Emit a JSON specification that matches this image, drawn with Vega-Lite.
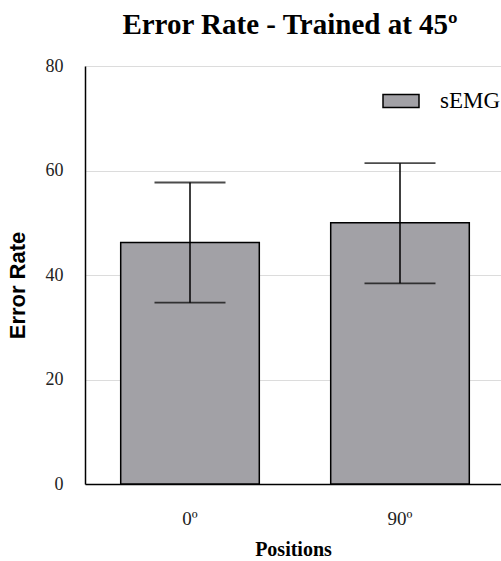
{
  "$schema": "https://vega.github.io/schema/vega-lite/v6.json",
  "autosize": "none",
  "width": 420,
  "height": 418,
  "padding": {"left": 85, "top": 66, "right": 0, "bottom": 77},
  "background": "white",
  "title": {
    "text": "Error Rate - Trained at 45º",
    "font": "Liberation Serif",
    "fontSize": 29,
    "fontWeight": "bold",
    "color": "black",
    "anchor": "middle",
    "dx": -5,
    "offset": 17
  },
  "data": {
    "values": [
      {"position": "0º", "series": "sEMG", "rate": 46.2, "lo": 34.7, "hi": 57.7},
      {"position": "90º", "series": "sEMG", "rate": 50.0, "lo": 38.4, "hi": 61.4}
    ]
  },
  "encoding": {
    "x": {
      "field": "position",
      "type": "nominal",
      "sort": null,
      "scale": {"paddingInner": 0.34, "paddingOuter": 0.17},
      "axis": {
        "title": "Positions",
        "titleFont": "Liberation Serif",
        "titleFontSize": 20,
        "titleFontWeight": "bold",
        "titleColor": "black",
        "titlePadding": 11,
        "titleX": 208,
        "labelAngle": 0,
        "labelFont": "Liberation Serif",
        "labelFontSize": 19,
        "labelColor": "#222",
        "labelPadding": 25,
        "ticks": false,
        "domainColor": "black",
        "domainWidth": 1.5
      }
    }
  },
  "layer": [
    {
      "mark": {"type": "bar", "stroke": "black", "strokeWidth": 1.5},
      "encoding": {
        "y": {
          "field": "rate",
          "type": "quantitative",
          "scale": {"domain": [0, 80], "nice": false},
          "axis": {
            "values": [0, 20, 40, 60, 80],
            "title": "Error Rate",
            "titleFont": "Liberation Sans",
            "titleFontSize": 22,
            "titleFontWeight": "bold",
            "titleColor": "black",
            "titlePadding": 16,
            "titleY": 219,
            "labelFont": "Liberation Serif",
            "labelFontSize": 18,
            "labelColor": "#222",
            "labelPadding": 22,
            "ticks": false,
            "grid": true,
            "gridColor": "#dcdcdc",
            "gridWidth": 1.2,
            "domainColor": "black",
            "domainWidth": 1.5
          }
        },
        "color": {
          "field": "series",
          "type": "nominal",
          "scale": {"range": ["#a2a1a6"]},
          "legend": {
            "title": null,
            "orient": "none",
            "legendX": 297,
            "legendY": 16,
            "symbolType": "M-1,-0.36H1V0.36H-1Z",
            "symbolSize": 1296,
            "symbolStrokeColor": "black",
            "symbolStrokeWidth": 1.5,
            "labelFont": "Liberation Serif",
            "labelFontSize": 23,
            "labelColor": "black",
            "labelOffset": 20
          }
        }
      }
    },
    {
      "mark": {"type": "rule", "color": "black", "strokeWidth": 1.5},
      "encoding": {
        "y": {"field": "lo", "type": "quantitative"},
        "y2": {"field": "hi"}
      }
    },
    {
      "mark": {"type": "tick", "color": "black", "size": 71, "thickness": 1.8},
      "encoding": {"y": {"field": "hi", "type": "quantitative"}}
    },
    {
      "mark": {"type": "tick", "color": "black", "size": 71, "thickness": 1.8},
      "encoding": {"y": {"field": "lo", "type": "quantitative"}}
    }
  ],
  "config": {
    "view": {"stroke": null}
  }
}
